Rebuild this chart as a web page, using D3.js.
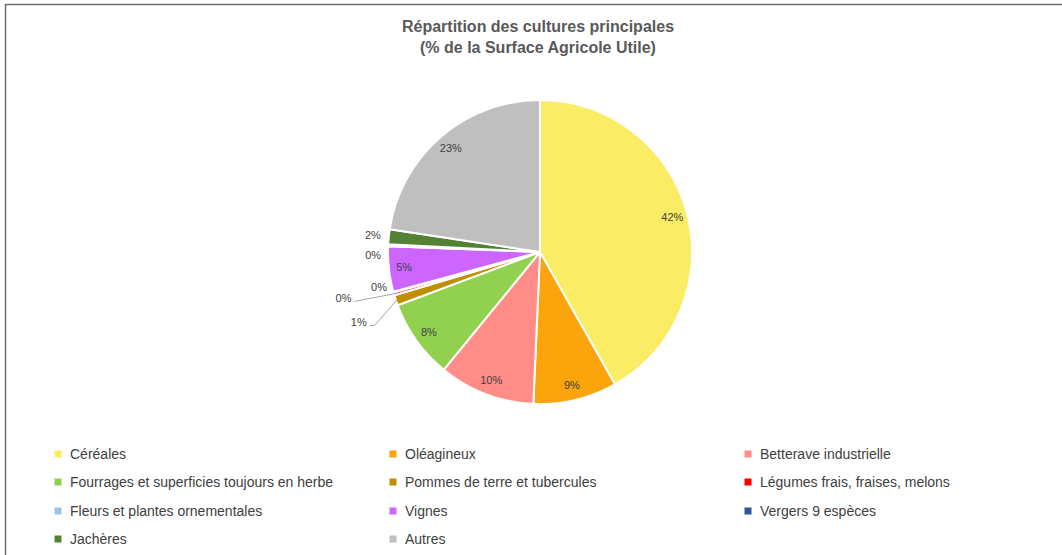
<!DOCTYPE html>
<html lang="fr">
<head>
<meta charset="utf-8">
<script src="https://cdn.jsdelivr.net/npm/d3@7"></script>
<style>
  html, body { margin: 0; padding: 0; background: #fff; }
  svg { display: block; }
  text { font-family: "Liberation Sans", Arial, sans-serif; }
</style>
</head>
<body>
<svg id="chart" width="1062" height="555"></svg>
<script>
// Crop categories, in slice order (clockwise from 12 o'clock)
const categories = [
  "Céréales",
  "Oléagineux",
  "Betterave industrielle",
  "Fourrages et superficies toujours en herbe",
  "Pommes de terre et tubercules",
  "Légumes frais, fraises, melons",
  "Fleurs et plantes ornementales",
  "Vignes",
  "Vergers 9 espèces",
  "Jachères",
  "Autres"
];
// Share of the utilised agricultural area (%)
const shares = [41.8, 8.9, 10.2, 8.4, 1.1, 0.3, 0.1, 4.8, 0.2, 1.6, 22.6];
const colors = [
  "#FAEC64", "#FBA40B", "#FF8C87", "#92D050", "#BF8F00",
  "#FF0000", "#9DC3E6", "#CC66FF", "#2F5597", "#548235", "#BFBFBF"
];
const titleLines = ["Répartition des cultures principales", "(% de la Surface Agricole Utile)"];

const svg = d3.select("#chart");
const W = 1062, H = 555;

// Chart area frame (right and bottom edges fall outside the view)
svg.append("rect")
  .attr("x", 5.5).attr("y", 4.5)
  .attr("width", W + 10).attr("height", H + 10)
  .attr("fill", "#fff")
  .attr("stroke", "#6b6b6b").attr("stroke-width", 1.5);

// Title
const title = svg.append("text")
  .attr("text-anchor", "middle")
  .attr("fill", "#595959")
  .attr("font-weight", "bold")
  .attr("font-size", 16);
titleLines.forEach((t, i) => {
  title.append("tspan").attr("x", 538).attr("y", 32 + i * 21).text(t);
});

// Pie
const cx = 540, cy = 252, R = 152;
const data = categories.map((c, i) => ({ name: c, value: shares[i], color: colors[i] }));
const pie = d3.pie().sort(null).value(d => d.value);
const arcs = pie(data);
const arc = d3.arc().innerRadius(0).outerRadius(R);
const labelArc = d3.arc().innerRadius(R * 0.9).outerRadius(R * 0.9);
const outerArc = d3.arc().innerRadius(R + 16).outerRadius(R + 16);

const g = svg.append("g").attr("transform", `translate(${cx},${cy})`);
g.selectAll("path.slice")
  .data(arcs)
  .join("path")
  .attr("class", "slice")
  .attr("d", arc)
  .attr("fill", d => d.data.color)
  .attr("stroke", "#fff")
  .attr("stroke-width", 2)
  .attr("stroke-linejoin", "round");

const fmt = v => Math.round(v) + "%";

// Labels: large slices inside, small slices outside with nudges to avoid overlaps
const nudges = {
  "Pommes de terre et tubercules": { dx: -22, dy: 17, leader: true },
  "Légumes frais, fraises, melons": { dx: -35, dy: 0, leader: true },
  "Fleurs et plantes ornementales": { dx: 1, dy: -9 },
  "Vergers 9 espèces": { dx: 1, dy: 10 },
  "Jachères": { dx: 0, dy: 0 }
};

arcs.forEach(a => {
  const nd = nudges[a.data.name];
  let x, y;
  if (nd) {
    const p = outerArc.centroid(a);
    x = p[0] + nd.dx; y = p[1] + nd.dy;
    if (nd.leader) {
      const mid = (a.startAngle + a.endAngle) / 2;
      const ex = Math.sin(mid) * (R - 1), ey = -Math.cos(mid) * (R - 1);
      const tx = x + 11, ty = y + 3;
      g.append("polyline")
        .attr("points", nd.dx < -30
          ? `${tx},${ty} ${ex},${ey}`
          : `${tx},${ty} ${tx + 5},${ty} ${ex},${ey}`)
        .attr("fill", "none")
        .attr("stroke", "#a6a6a6")
        .attr("stroke-width", 1);
    }
  } else {
    [x, y] = labelArc.centroid(a);
  }
  g.append("text")
    .attr("x", x).attr("y", y)
    .attr("text-anchor", "middle")
    .attr("dominant-baseline", "central")
    .attr("font-size", 11)
    .attr("fill", "#404040")
    .text(fmt(a.data.value));
});

// Legend: three columns, rows filled left to right
const colX = [58, 393, 748];
const rowY = [454, 482, 511, 539];
const legend = svg.append("g");
data.forEach((d, i) => {
  const x = colX[i % 3], y = rowY[Math.floor(i / 3)];
  legend.append("rect")
    .attr("x", x - 3.5).attr("y", y - 3.5)
    .attr("width", 7).attr("height", 7)
    .attr("fill", d.color);
  legend.append("text")
    .attr("x", x + 12).attr("y", y)
    .attr("dominant-baseline", "central")
    .attr("font-size", 14)
    .attr("fill", "#404040")
    .text(d.name);
});
</script>
</body>
</html>
